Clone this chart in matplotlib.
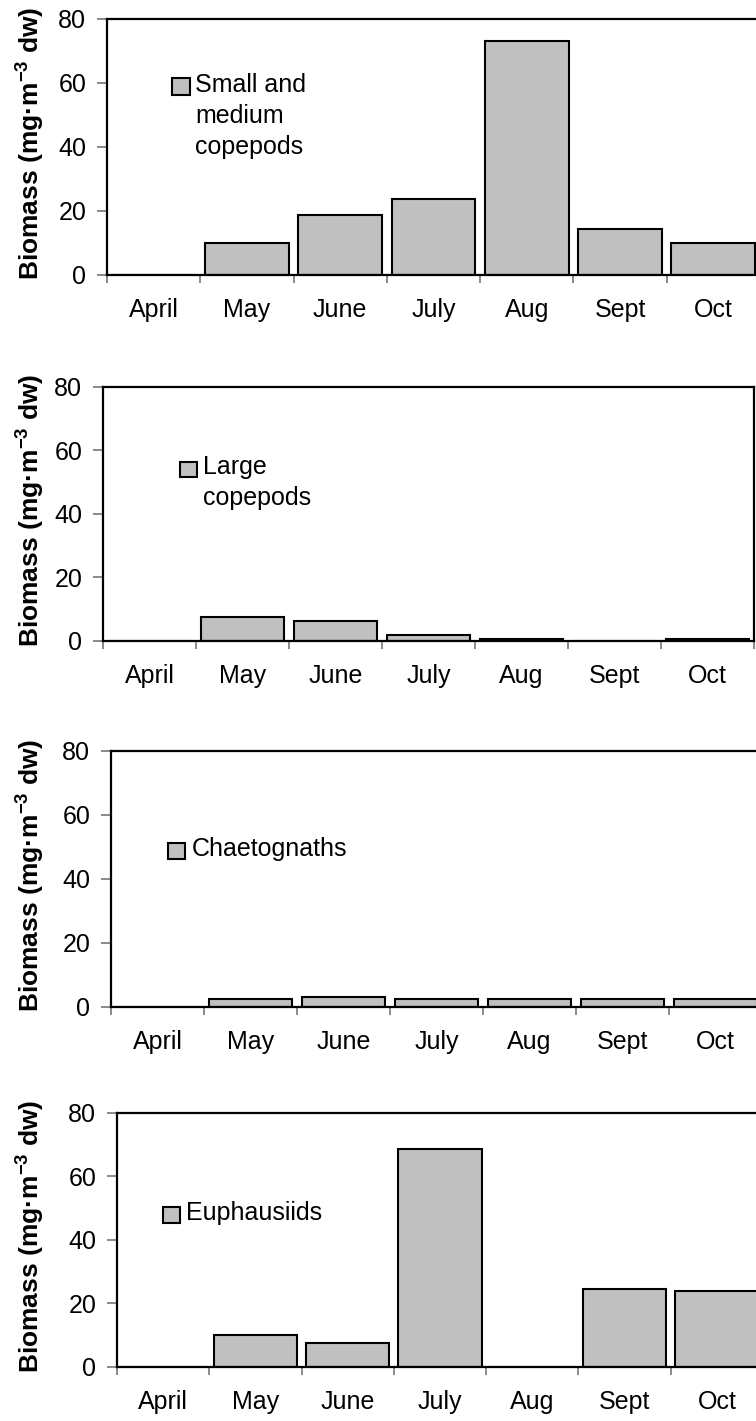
import matplotlib
matplotlib.use("Agg")
import matplotlib.pyplot as plt
from matplotlib.patches import Rectangle

plt.rcParams['font.family'] = ['Liberation Sans', 'DejaVu Sans']
plt.rcParams['mathtext.fontset'] = 'custom'
plt.rcParams['mathtext.rm'] = 'Liberation Sans'
plt.rcParams['mathtext.bf'] = 'Liberation Sans:bold'
plt.rcParams['mathtext.it'] = 'Liberation Sans:italic'

months = ["April", "May", "June", "July", "Aug", "Sept", "Oct"]
small_medium_copepods = [0, 10.0, 18.7, 23.7, 73.2, 14.4, 9.9]
large_copepods = [0, 7.5, 6.2, 1.9, 0.6, 0, 0.6]
chaetognaths = [0, 2.4, 3.1, 2.4, 2.4, 2.4, 2.4]
euphausiids = [0, 10.1, 7.6, 68.7, 0, 24.6, 23.9]
yticks = [0, 20, 40, 60, 80]

panels = [
    ("Small and\nmedium\ncopepods", small_medium_copepods),
    ("Large\ncopepods", large_copepods),
    ("Chaetognaths", chaetognaths),
    ("Euphausiids", euphausiids),
]

W, H = 756, 1421
fig = plt.figure(figsize=(W / 100, H / 100), dpi=100)

# axes boxes in pixels: left, right, top, bottom
boxes = [
    (107, 760, 19, 274.7),
    (103, 754, 386.7, 640.7),
    (111, 762, 751, 1006.7),
    (117, 763, 1112.7, 1366.7),
]
# legend square (x0, x1, y0, y1) and text (x, first baseline)
leg_sq = [
    (172, 190, 78, 95),
    (180, 197, 461.7, 476.7),
    (168, 185, 842.7, 859),
    (162.7, 180, 1206.7, 1222.7),
]
leg_txt = [
    (195, 92),
    (203, 474),
    (192, 856),
    (186, 1220),
]
LINE = 31

FS = 18
ylabel = r"Biomass (mg·m$^{\mathbf{-3}}$ dw)"

for i, (name, vals) in enumerate(panels):
    l, r, t, b = boxes[i]
    ax = fig.add_axes([l / W, 1 - b / H, (r - l) / W, (b - t) / H])
    x = list(range(len(months)))
    ax.bar(x, vals, width=0.9, color="#C0C0C0", edgecolor="black", linewidth=1.5, zorder=3)
    ax.set_xlim(-0.5, len(months) - 0.5)
    ax.set_ylim(0, 80)
    ax.set_yticks(yticks)
    ax.set_yticklabels([str(v) for v in yticks], fontsize=FS)
    ax.set_xticks([k - 0.5 for k in range(len(months) + 1)])
    ax.set_xticklabels([])
    ax.set_xticks(x, minor=True)
    ax.set_xticklabels(months, minor=True, fontsize=FS)
    ax.tick_params(axis='x', which='major', direction='out', length=6, width=1.2, color='#777777')
    ax.tick_params(axis='x', which='minor', length=0, pad=17)
    ax.tick_params(axis='y', which='major', direction='out', length=7, width=1.2, color='#777777', pad=8)
    for s in ax.spines.values():
        s.set_linewidth(1.6)
        s.set_color("black")
        s.set_zorder(4)

    # legend square + text
    sx0, sx1, sy0, sy1 = leg_sq[i]
    fig.patches.append(Rectangle((sx0 / W, 1 - sy1 / H), (sx1 - sx0) / W, (sy1 - sy0) / H,
                                 transform=fig.transFigure, facecolor="#C0C0C0",
                                 edgecolor="black", linewidth=1.5))
    tx, ty = leg_txt[i]
    for j, line in enumerate(name.split("\n")):
        fig.text(tx / W, 1 - (ty + j * LINE) / H, line, fontsize=FS, ha='left', va='baseline')

    fig.text(31 / W, 1 - ((t + b) / 2 - 3) / H, ylabel, rotation=90, ha='center', va='center',
             fontsize=19, fontweight='bold')

fig.savefig("out.png", dpi=100)
